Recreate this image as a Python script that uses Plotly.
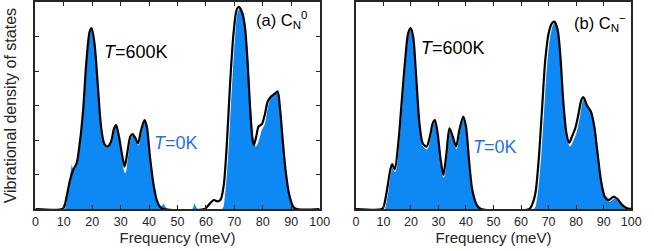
import plotly.graph_objects as go

# (a) C_N^0  -- T=600K (black line) and T=0K (blue fill)
a_hot_x = [0, 9.5, 10.2, 11.0, 12.2, 13.3, 14.5, 15.6, 16.8, 17.9, 19.1, 19.8, 20.8, 22.0, 23.1, 24.2, 25.4,
           26.6, 27.7, 28.4, 29.4, 30.6, 31.4, 32.3, 33.4, 34.2, 35.2, 36.1, 37.2, 38.4, 39.2, 40.3, 41.5,
           42.7, 43.8, 45.0, 59.5, 61.0, 62.8, 64.0, 65.1, 66.2, 67.3, 68.5, 69.7, 70.8, 71.6, 72.8, 73.7,
           74.6, 75.5, 76.4, 76.9, 77.7, 78.5, 79.7, 80.8, 81.7, 82.9, 84.3, 85.2, 86.1, 87.0, 88.0, 89.2,
           90.7, 92.0, 100]
a_hot_y = [0, 0, 0.08, 0.36, 0.84, 1.13, 1.32, 1.9, 2.87, 4.22, 5.14, 5.24, 4.8, 3.55, 2.39, 1.9, 1.81,
           1.95, 2.34, 2.43, 2.1, 1.52, 1.23, 1.61, 2.1, 2.17, 2.05, 1.9, 2.29, 2.58, 2.39, 1.52, 0.74,
           0.26, 0.07, 0, 0, 0.12, 0.26, 0.22, 0.26, 0.65, 1.81, 3.64, 5.09, 5.77, 5.86, 5.67, 5.28,
           4.32, 2.97, 2.0, 1.86, 2.1, 2.39, 2.46, 2.77, 3.11, 3.26, 3.35, 3.4, 2.87, 2.0, 1.13, 0.45,
           0.07, 0, 0]
a_cold_x = [10.3, 11.0, 12.0, 12.8, 13.5, 14.5, 15.6, 16.8, 17.9, 19.1, 19.8, 20.8, 22.0, 23.1, 24.2, 25.4,
            26.6, 27.7, 28.5, 29.5, 30.6, 31.6, 32.4, 33.5, 34.3, 35.3, 36.2, 37.3, 38.5, 39.3, 40.4, 41.6,
            42.8, 44.0, 45.0, 46.0, 47.0, 55.0, 55.9, 57.0, 58.0, 65.5, 66.5, 67.6, 68.8, 70.0, 71.0, 72.2,
            73.3, 74.2, 75.1, 76.0, 77.0, 77.6, 78.5, 79.5, 80.5, 81.5, 82.5, 83.8, 85.5, 86.4, 87.3, 88.3,
            89.5, 91.0, 92.0]
a_cold_y = [0, 0.3, 0.9, 1.32, 1.15, 1.3, 1.85, 2.85, 4.2, 5.12, 5.24, 4.82, 3.6, 2.45, 1.9, 1.78,
            1.92, 2.3, 2.43, 2.08, 1.45, 1.05, 1.5, 2.05, 2.15, 2.0, 1.85, 2.25, 2.6, 2.42, 1.55, 0.75,
            0.25, 0.06, 0.16, 0.05, 0, 0, 0.18, 0.02, 0, 0, 0.4, 1.5, 3.3, 4.9, 5.7, 5.86,
            5.7, 5.25, 4.3, 3.0, 2.0, 1.82, 2.0, 2.3, 2.45, 2.9, 3.2, 3.35, 3.45, 2.95, 2.05, 1.15,
            0.45, 0.06, 0]

# (b) C_N^-
b_hot_x = [0, 9.5, 10.1, 11.3, 12.5, 13.2, 14.1, 15.4, 16.6, 17.8, 19.0, 19.9, 20.8, 21.9, 23.1, 24.3, 25.7,
           26.9, 27.9, 28.7, 29.7, 30.8, 31.8, 32.9, 34.0, 35.2, 36.4, 37.6, 39.0, 40.0, 41.2, 42.3, 43.9,
           45.5, 63.0, 64.1, 65.2, 66.4, 67.6, 68.8, 70.0, 71.2, 72.1, 73.3, 74.3, 75.3, 76.5, 77.5, 78.5,
           79.7, 80.9, 81.9, 82.7, 83.9, 85.4, 86.6, 87.8, 89.0, 90.4, 91.9, 93.7, 95.1, 96.7, 98.5, 100]
b_hot_y = [0, 0, 0.07, 0.55, 1.13, 1.3, 1.15, 1.9, 3.06, 4.22, 5.09, 5.24, 5.0, 3.84, 2.48, 1.9, 1.81,
           2.1, 2.48, 2.58, 2.19, 1.42, 0.99, 1.61, 2.34, 2.1, 1.81, 2.29, 2.68, 2.39, 1.32, 0.55, 0.12,
           0, 0, 0.14, 0.45, 1.42, 2.87, 4.32, 5.09, 5.38, 5.43, 5.19, 4.41, 3.16, 2.19, 1.92, 2.1,
           2.34, 2.77, 3.16, 3.24, 3.01, 2.82, 2.39, 1.61, 0.84, 0.36, 0.26, 0.36, 0.28, 0.12, 0.02, 0]
b_cold_x = [10.5, 11.5, 12.6, 13.3, 14.2, 15.5, 16.7, 17.9, 19.1, 19.9, 20.9, 22.0, 23.2, 24.4, 25.8,
            27.0, 28.0, 28.8, 29.8, 30.9, 31.9, 33.0, 34.1, 35.3, 36.5, 37.7, 39.1, 40.1, 41.3, 42.4, 44.0,
            45.5, 64.5, 65.6, 66.8, 68.0, 69.2, 70.4, 71.6, 72.5, 73.6, 74.6, 75.6, 76.8, 77.8, 78.8,
            80.0, 81.2, 82.2, 83.0, 84.2, 85.7, 86.9, 88.1, 89.3, 90.7, 92.2, 93.9, 95.3, 96.9, 98.5]
b_cold_y = [0, 0.45, 1.05, 1.22, 1.08, 1.82, 3.0, 4.18, 5.07, 5.22, 4.95, 3.75, 2.4, 1.83, 1.74,
            2.05, 2.45, 2.56, 2.15, 1.36, 0.92, 1.55, 2.3, 2.05, 1.75, 2.25, 2.66, 2.35, 1.26, 0.5, 0.1,
            0, 0, 0.3, 1.2, 2.6, 4.1, 5.0, 5.36, 5.42, 5.2, 4.4, 3.15, 2.1, 1.82, 1.98,
            2.22, 2.68, 3.12, 3.22, 3.0, 2.8, 2.36, 1.57, 0.8, 0.32, 0.22, 0.32, 0.24, 0.08, 0]

freq_ticks = [0, 10, 20, 30, 40, 50, 60, 70, 80, 90, 100]

BLUE = '#0e88f2'
TXT_BLUE = '#1f6ff2'
DARK = '#262626'
FONT = 'Liberation Sans, Arial, sans-serif'

fig = go.Figure()
for cx, cy, hx, hy, xa, ya in [(a_cold_x, a_cold_y, a_hot_x, a_hot_y, 'x', 'y'),
                               (b_cold_x, b_cold_y, b_hot_x, b_hot_y, 'x2', 'y2')]:
    fig.add_trace(go.Scatter(x=cx, y=cy, mode='lines', fill='tozeroy', fillcolor=BLUE,
                             line=dict(color='white', width=1, shape='spline', smoothing=0.8),
                             xaxis=xa, yaxis=ya, showlegend=False))
    fig.add_trace(go.Scatter(x=hx, y=hy, mode='lines',
                             line=dict(color='black', width=2.2, shape='spline', smoothing=0.8),
                             xaxis=xa, yaxis=ya, showlegend=False))

xcommon = dict(range=[0, 100], tickvals=freq_ticks, ticks='inside', ticklen=4, tickwidth=1,
               tickcolor=DARK, showline=True, linecolor=DARK, linewidth=1.5, mirror='ticks',
               showgrid=False, zeroline=False, tickfont=dict(size=12.5, color=DARK),
               title=dict(text='Frequency (meV)', font=dict(size=15, color=DARK), standoff=5))
fig.update_layout(
    width=654, height=251,
    margin=dict(l=0, r=0, t=2, b=42),
    plot_bgcolor='white', paper_bgcolor='white',
    font=dict(family=FONT, color=DARK),
    xaxis=dict(domain=[0.0505, 0.494], anchor='y', **xcommon),
    xaxis2=dict(domain=[0.5505, 0.980], anchor='y2', **xcommon),
    yaxis=dict(domain=[0, 1], anchor='x', range=[0, 6], tickvals=[0, 1, 2, 3, 4, 5, 6],
               showticklabels=False, ticks='inside', ticklen=4, tickcolor=DARK,
               showline=True, linecolor=DARK, linewidth=1.5, mirror='ticks',
               showgrid=False, zeroline=False),
    yaxis2=dict(domain=[0, 1], anchor='x2', range=[0, 6], showticklabels=False, ticks='',
                showline=True, linecolor=DARK, linewidth=1.5, mirror=True,
                showgrid=False, zeroline=False),
)

def label(text, x, y, xref, yref, color='black', size=18):
    fig.add_annotation(text=text, x=x, y=y, xref=xref, yref=yref, showarrow=False,
                       xanchor='center', yanchor='middle', font=dict(size=size, color=color, family=FONT))

label('<i>T</i>=600K', 35.3, 4.55, 'x', 'y')
label('<i>T</i>=0K', 49.3, 1.91, 'x', 'y', color=TXT_BLUE)
label('(a) C<sub>N</sub><sup>0</sup>', 86.6, 5.48, 'x', 'y', size=16.5)
label('<i>T</i>=600K', 35.2, 4.67, 'x2', 'y2')
label('<i>T</i>=0K', 50.7, 1.80, 'x2', 'y2', color=TXT_BLUE)
label('(b) C<sub>N</sub><sup>\u2212</sup>', 88.6, 5.39, 'x2', 'y2', size=16.5)

fig.add_annotation(text='Vibrational density of states', x=8 / 654, y=0.5, xref='paper', yref='paper',
                   showarrow=False, textangle=-90, xanchor='center', yanchor='middle',
                   font=dict(size=16, color=DARK, family=FONT))

fig.write_html("out.html", config={'displayModeBar': False},
               post_script="document.body.style.margin='0';")
